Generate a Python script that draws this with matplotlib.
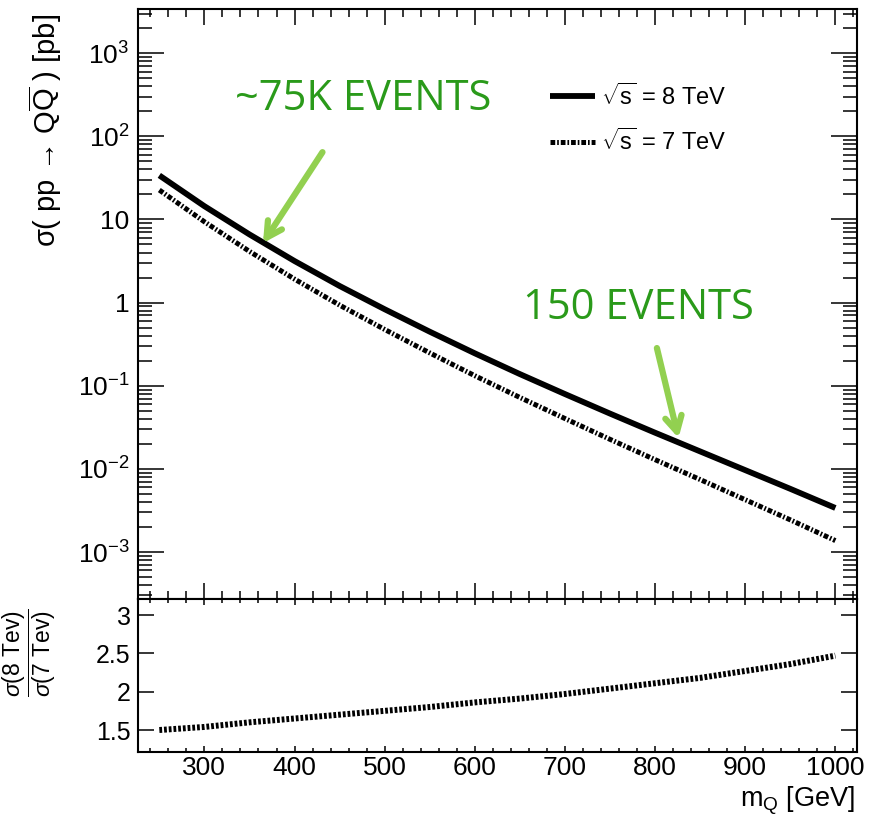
import numpy as np
import matplotlib
matplotlib.use("Agg")
import matplotlib.pyplot as plt
from matplotlib.ticker import MultipleLocator, FixedLocator, FuncFormatter, NullFormatter

plt.rcParams['font.family'] = ['Liberation Sans', 'DejaVu Sans']
plt.rcParams['mathtext.fontset'] = 'custom'
plt.rcParams['mathtext.rm'] = 'Liberation Sans'
plt.rcParams['mathtext.it'] = 'Liberation Sans:italic'
plt.rcParams['mathtext.bf'] = 'Liberation Sans:bold'
plt.rcParams['mathtext.sf'] = 'Liberation Sans'
plt.rcParams['lines.scale_dashes'] = False

# ---- data ----
mass = [250, 300, 350, 400, 450, 500, 550, 600, 650, 700, 750, 800, 850, 900, 950, 1000]
log_xsec_8tev = [1.53, 1.16, 0.82, 0.50, 0.20, -0.08, -0.35, -0.61, -0.86, -1.10,
                 -1.335, -1.565, -1.79, -2.015, -2.24, -2.47]
ratio_8_over_7 = [1.50, 1.54, 1.60, 1.65, 1.70, 1.75, 1.80, 1.86, 1.91, 1.97,
                  2.04, 2.11, 2.18, 2.27, 2.36, 2.47]
y_major_exponents = [-3, -2, -1, 0, 1, 2, 3]
ratio_ticks = [1.5, 2, 2.5, 3]
legend_labels = [r"$\sqrt{\mathrm{s}}$ = 8 TeV", r"$\sqrt{\mathrm{s}}$ = 7 TeV"]
annot_texts = ["~75K EVENTS", "150 EVENTS"]
annot_tips = [(365, 5.2), (826, 0.0235)]
annot_tails = [(431, 64.5), (802, 0.284)]
annot_text_pos = [(476, 280), (782, 0.86)]

mass = np.array(mass, float)
xsec8 = 10 ** np.array(log_xsec_8tev)
ratio = np.array(ratio_8_over_7)
xsec7 = xsec8 / ratio

W, H = 879, 821
fig = plt.figure(figsize=(W / 100, H / 100), dpi=100)
left = 137.7 / W
width = (857 - 137.7) / W
top1 = 1 - 9 / H
bot1 = 1 - 599.3 / H
bot2 = 1 - 751.7 / H
ax1 = fig.add_axes([left, bot1, width, top1 - bot1])
ax2 = fig.add_axes([left, bot2, width, bot1 - bot2])

YLO, YHI = 2.7e-4, 3400
l8, = ax1.plot(mass, xsec8, color='black', lw=4.2, solid_capstyle='butt')
l7, = ax1.plot(mass, xsec7, color='black', lw=3.6, dash_capstyle='butt')
l7.set_dashes((3.4, 1.4, 1.2, 1.4))
ax1.set_yscale('log')
ax1.set_xlim(226, 1024)
ax1.set_ylim(YLO, YHI)

def logfmt(v, pos):
    n = int(round(np.log10(v)))
    if n == 0:
        return "1"
    if n == 1:
        return "10"
    return r"$10^{%d}$" % n

majors = [10.0 ** e for e in y_major_exponents]
minors = [m * 10.0 ** e for e in range(-4, 4) for m in range(2, 10)]
minors = [v for v in minors if YLO <= v <= YHI]
ax1.yaxis.set_major_locator(FixedLocator(majors))
ax1.yaxis.set_minor_locator(FixedLocator(minors))
ax1.yaxis.set_major_formatter(FuncFormatter(logfmt))
ax1.yaxis.set_minor_formatter(NullFormatter())
for ax in (ax1, ax2):
    ax.xaxis.set_major_locator(MultipleLocator(100))
    ax.xaxis.set_minor_locator(MultipleLocator(20))
    for s in ax.spines.values():
        s.set_linewidth(1.5)
ax1.tick_params(axis='y', which='major', direction='in', length=18.5, width=1.1,
                left=True, right=True, labelsize=19, pad=6)
ax1.tick_params(axis='y', which='minor', direction='in', length=10, width=1.1,
                left=True, right=True)
ax1.tick_params(axis='x', which='major', direction='in', length=11.5, width=1.1,
                top=True, bottom=True, labelbottom=False)
ax1.tick_params(axis='x', which='minor', direction='in', length=5.5, width=1.1,
                top=True, bottom=True)

lr, = ax2.plot(mass, ratio, color='black', lw=4.3, dash_capstyle='butt')
lr.set_dashes((2.0, 1.4))
ax2.set_xlim(226, 1024)
ax2.set_ylim(1.217, 3.205)
ax2.yaxis.set_major_locator(FixedLocator(ratio_ticks))
ax2.yaxis.set_major_formatter(FuncFormatter(lambda v, p: ("%g" % v)))
ax2.tick_params(axis='y', which='major', direction='in', length=11.5, width=1.1,
                left=True, right=True, labelsize=18, pad=5)
ax2.tick_params(axis='x', which='major', direction='in', length=4.5, width=1.1,
                top=True, bottom=True, labelsize=19, pad=3)
ax2.tick_params(axis='x', which='minor', direction='in', length=3, width=1.1,
                top=True, bottom=True)

# labels
fig.text(45 / W, 1 - 14 / H, "σ( pp → Q" + r"$\overline{\mathrm{Q}}$" + " ) [pb]",
         rotation=90, ha='center', va='top', fontsize=21)
fig.text(29 / W, 1 - 653 / H,
         r"$\dfrac{\sigma(8\ \mathrm{Tev})}{\sigma(7\ \mathrm{Tev})}$", fontsize=16.5,
         rotation=90, ha='center', va='center')
fig.text(855 / W, 1 - 800 / H, r"m$_{\mathrm{Q}}$ [GeV]", ha='right', va='center', fontsize=19.5)

leg = ax1.legend([l8, l7], legend_labels, loc='upper left',
                 bbox_to_anchor=(550 / W, 1 - 83 / H), bbox_transform=fig.transFigure,
                 frameon=False, fontsize=17, handlelength=1.9, handletextpad=0.25,
                 labelspacing=0.8, borderpad=0, borderaxespad=0)

# annotations
for txt, tip, tail, tpos in zip(annot_texts, annot_tips, annot_tails, annot_text_pos):
    ax1.annotate("", xy=tip, xytext=tail, xycoords='data', textcoords='data',
                 arrowprops=dict(arrowstyle='->,head_length=1.1,head_width=0.6',
                                 color='#92d050', lw=4.5, shrinkA=0, shrinkB=0))
    ax1.text(tpos[0], tpos[1], txt, color='#2a9a1a', fontsize=30, ha='center', va='center',
             family=['Open Sans', 'DejaVu Sans'])

fig.savefig("out.png", dpi=100)
